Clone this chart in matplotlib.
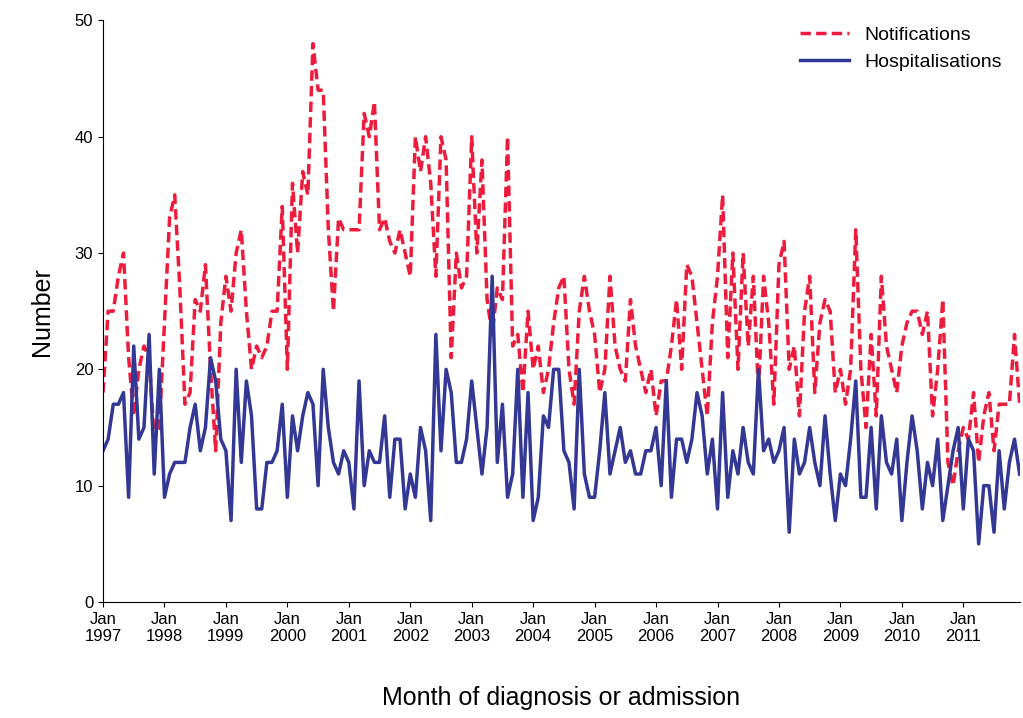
import numpy as np
import matplotlib.pyplot as plt

plt.rcParams['font.family'] = ['Liberation Sans', 'DejaVu Sans']

years = list(range(1997, 2012))

notifications = [
    18, 25, 25, 28, 30, 21, 16, 20, 22, 21, 14, 15,
    24, 33, 35, 27, 17, 18, 26, 25, 29, 20, 13, 24,
    28, 25, 30, 32, 25, 20, 22, 21, 22, 25, 25, 34,
    20, 36, 30, 37, 35, 48, 44, 44, 32, 25, 33, 32,
    32, 32, 32, 42, 40, 43, 32, 33, 31, 30, 32, 30,
    28, 40, 37, 40, 36, 28, 40, 38, 21, 30, 27, 28,
    40, 30, 38, 26, 23, 27, 26, 40, 22, 23, 18, 25,
    20, 22, 18, 20, 24, 27, 28, 20, 17, 25, 28, 25,
    23, 18, 20, 28, 22, 20, 19, 26, 22, 20, 18, 20,
    16, 19, 19, 22, 26, 20, 29, 28, 24, 20, 16, 24,
    28, 35, 21, 30, 20, 30, 22, 28, 18, 28, 24, 17,
    29, 31, 20, 22, 16, 25, 28, 18, 24, 26, 25, 18,
    20, 17, 20, 32, 20, 15, 23, 16, 28, 22, 20, 18,
    22, 24, 25, 25, 23, 25, 16, 20, 26, 12, 10, 13,
    15, 14, 18, 12, 16, 18, 13, 17, 17, 17, 23, 17,
]

hospitalisations = [
    13, 14, 17, 17, 18, 9, 22, 14, 15, 23, 11, 20,
    9, 11, 12, 12, 12, 15, 17, 13, 15, 21, 19, 14,
    13, 7, 20, 12, 19, 16, 8, 8, 12, 12, 13, 17,
    9, 16, 13, 16, 18, 17, 10, 20, 15, 12, 11, 13,
    12, 8, 19, 10, 13, 12, 12, 16, 9, 14, 14, 8,
    11, 9, 15, 13, 7, 23, 13, 20, 18, 12, 12, 14,
    19, 15, 11, 15, 28, 12, 17, 9, 11, 20, 9, 18,
    7, 9, 16, 15, 20, 20, 13, 12, 8, 20, 11, 9,
    9, 13, 18, 11, 13, 15, 12, 13, 11, 11, 13, 13,
    15, 10, 19, 9, 14, 14, 12, 14, 18, 16, 11, 14,
    8, 18, 9, 13, 11, 15, 12, 11, 20, 13, 14, 12,
    13, 15, 6, 14, 11, 12, 15, 12, 10, 16, 11, 7,
    11, 10, 14, 19, 9, 9, 15, 8, 16, 12, 11, 14,
    7, 12, 16, 13, 8, 12, 10, 14, 7, 10, 13, 15,
    8, 14, 13, 5, 10, 10, 6, 13, 8, 12, 14, 11,
]

months = np.arange(len(notifications))

fig = plt.figure(figsize=(10.23, 7.18), dpi=100)
ax = fig.add_axes([0.1007, 0.1616, 0.896, 0.81])

ax.plot(months, notifications, color='#ee1c3c', linestyle=(0, (3, 1.5)), lw=2.5, label='Notifications')
ax.plot(months, hospitalisations, color='#343895', lw=2.5, label='Hospitalisations')

ax.set_xlim(0, len(months) - 1)
ax.set_ylim(0, 50)
ax.set_yticks(range(0, 51, 10))
ax.set_xticks(np.arange(0, len(months), 12))
ax.set_xticklabels(['Jan\n%d' % y for y in years])
ax.tick_params(labelsize=12)
for s in ['top', 'right']:
    ax.spines[s].set_visible(False)

ax.set_ylabel('Number', fontsize=18, labelpad=15)
ax.set_xlabel('Month of diagnosis or admission', fontsize=18, labelpad=30)
ax.legend(loc='upper right', frameon=False, fontsize=14, handlelength=2.5,
          bbox_to_anchor=(1.0, 1.02))

fig.savefig('out.png')
